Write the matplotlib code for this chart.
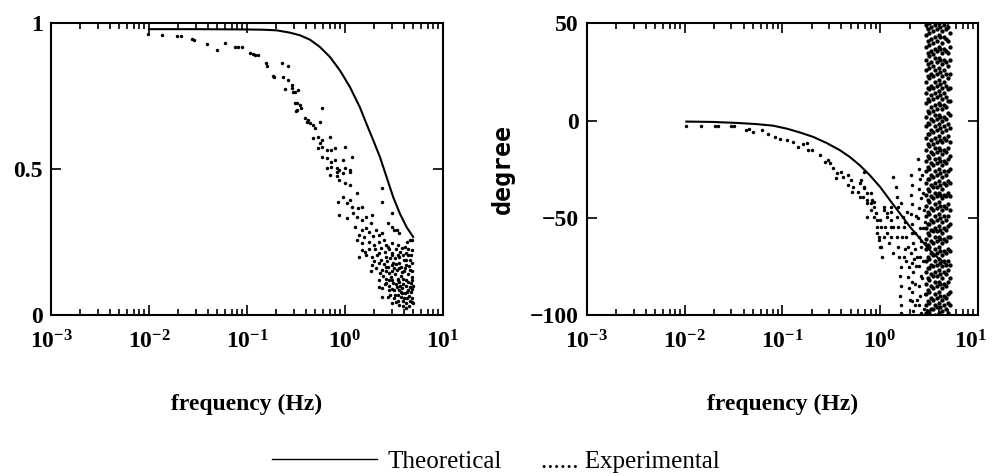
import numpy as np
import matplotlib.pyplot as plt
from matplotlib.lines import Line2D
from matplotlib.transforms import ScaledTranslation

plt.rcParams['font.family'] = 'Liberation Serif'
plt.rcParams['mathtext.fontset'] = 'custom'
plt.rcParams['mathtext.rm'] = 'Liberation Serif:bold'
plt.rcParams['mathtext.it'] = 'Liberation Serif:bold'
plt.rcParams['mathtext.bf'] = 'Liberation Serif:bold'

# theoretical curves
theo_mag_freq = [0.01, 0.03, 0.1, 0.15, 0.201, 0.275, 0.348, 0.44, 0.556, 0.703, 0.889, 1.125,
                 1.42, 1.66, 1.95, 2.28, 2.66, 3.11, 3.64, 4.26, 4.98]
theo_mag = [0.98, 0.98, 0.979, 0.978, 0.976, 0.968, 0.959, 0.944, 0.919, 0.885, 0.839, 0.782,
            0.713, 0.656, 0.599, 0.542, 0.474, 0.405, 0.348, 0.302, 0.268]

theo_ph_freq = [0.0104, 0.0195, 0.034, 0.054, 0.080, 0.110, 0.151, 0.207, 0.283, 0.387, 0.49,
                0.62, 0.785, 1.0, 1.26, 1.60, 2.02, 2.56, 3.07, 3.8, 4.9]
theo_ph = [-0.5, -0.7, -1.2, -1.8, -2.6, -4.1, -6.1, -8.4, -11.5, -15.2, -18.7,
           -23.0, -28.1, -34.1, -40.9, -47.8, -54.6, -60.6, -65.5, -70.0, -74.5]

# experimental magnitude (freq Hz, |H|)
exp_mag_points = [
    (0.0098, 0.962), (0.0135, 0.960), (0.0195, 0.958), (0.021, 0.957), (0.0275, 0.945),
    (0.029, 0.944), (0.039, 0.930), (0.049, 0.907), (0.060, 0.932), (0.076, 0.918),
    (0.082, 0.920), (0.089, 0.919), (0.107, 0.900), (0.115, 0.896), (0.122, 0.893),
    (0.129, 0.890), (0.158, 0.863), (0.162, 0.853), (0.185, 0.820), (0.19, 0.816),
    (0.23, 0.863), (0.26, 0.854), (0.235, 0.816), (0.26, 0.805), (0.245, 0.774),
    (0.29, 0.788), (0.295, 0.765), (0.31, 0.726), (0.32, 0.70),
    (0.288, 0.777), (0.309, 0.764), (0.331, 0.771), (0.323, 0.726), (0.35, 0.719),
    (0.323, 0.702), (0.36, 0.709), (0.58, 0.709),
    (0.39, 0.675), (0.42, 0.668), (0.44, 0.658), (0.47, 0.651), (0.49, 0.640),
    (0.41, 0.661), (0.556, 0.661),
    (0.47, 0.606), (0.53, 0.610), (0.58, 0.599), (0.556, 0.589), (0.70, 0.610),
    (0.53, 0.572), (0.59, 0.575), (0.65, 0.565), (0.73, 0.565), (0.79, 0.572), (1.0, 0.575),
    (0.58, 0.541), (0.65, 0.538), (0.73, 0.524), (0.79, 0.531), (0.95, 0.531), (1.17, 0.541),
    (0.65, 0.503), (0.73, 0.507), (0.83, 0.503), (0.88, 0.497), (1.0, 0.503), (1.12, 0.497),
    (0.70, 0.479), (0.83, 0.476),
    (0.83, 0.490), (0.95, 0.486), (1.12, 0.490), (0.88, 0.462), (1.0, 0.452), (1.12, 0.445),
    (1.32, 0.418), (2.39, 0.435), (2.39, 0.387),
    (0.85, 0.387), (0.95, 0.404), (1.05, 0.384), (1.12, 0.394), (1.17, 0.370), (1.35, 0.366),
    (1.5, 0.370),
    (0.88, 0.342), (1.05, 0.332), (1.2, 0.349), (1.32, 0.336), (1.48, 0.325), (1.66, 0.336),
    (1.9, 0.342), (1.86, 0.315),
    (2.75, 0.315), (3.2, 0.291), (3.6, 0.281),
    (1.26, 0.301), (1.48, 0.291), (1.66, 0.298), (1.78, 0.284), (2.1, 0.291), (2.25, 0.274),
    (2.4, 0.281), (1.41, 0.274), (1.58, 0.267),
    (1.32, 0.257), (1.48, 0.247), (1.5, 0.223), (1.78, 0.250), (2.0, 0.240), (2.25, 0.250),
    (2.5, 0.257), (2.75, 0.233), (3.0, 0.247),
    (1.41, 0.199), (1.66, 0.205), (1.9, 0.199), (2.25, 0.212), (2.65, 0.199), (3.0, 0.212),
    (3.6, 0.199), (4.2, 0.212), (4.8, 0.223), (4.3, 0.250), (4.8, 0.257),
    (1.9, 0.171), (2.25, 0.178), (2.65, 0.164), (3.0, 0.171), (3.6, 0.178), (4.2, 0.171),
    (4.6, 0.188), (2.4, 0.154), (2.85, 0.144), (3.4, 0.154), (3.85, 0.147), (4.6, 0.154),
    (2.25, 0.120), (2.65, 0.110), (3.0, 0.120), (3.6, 0.113), (4.2, 0.120), (4.8, 0.130),
    (2.4, 0.092), (2.85, 0.086), (3.4, 0.096), (3.85, 0.092), (4.6, 0.096), (2.75, 0.062),
    (3.2, 0.058), (3.75, 0.062), (4.3, 0.058), (3.0, 0.041), (3.6, 0.034), (4.2, 0.041),
    (4.8, 0.045), (2.25, 0.096), (2.4, 0.062),
    (3.0, 0.349), (3.0, 0.301), (3.4, 0.291), (4.6, 0.257),
    (2.05, 0.225), (2.15, 0.205), (2.35, 0.230), (2.55, 0.215), (2.7, 0.185), (2.9, 0.195),
    (3.1, 0.180), (3.3, 0.225), (3.5, 0.205), (3.8, 0.230), (4.0, 0.190), (4.4, 0.205),
    (4.9, 0.180), (2.1, 0.160), (2.45, 0.135), (2.6, 0.150), (2.95, 0.130), (3.25, 0.140),
    (3.5, 0.125), (3.75, 0.135), (4.0, 0.150), (4.4, 0.140), (4.9, 0.120), (2.55, 0.105),
    (2.8, 0.100), (3.15, 0.085), (3.35, 0.105), (3.7, 0.080), (3.95, 0.105), (4.1, 0.075),
    (4.45, 0.085), (4.9, 0.090), (2.9, 0.070), (3.45, 0.070), (3.9, 0.050), (4.55, 0.065),
    (4.9, 0.060), (3.3, 0.045), (3.95, 0.030), (4.5, 0.030), (4.7, 0.110), (4.1, 0.160),
    (3.2, 0.160), (2.3, 0.145), (1.75, 0.225), (1.95, 0.270), (1.6, 0.215), (2.0, 0.185),
    (1.85, 0.150),
    (2.6, 0.240), (2.85, 0.225), (3.05, 0.205), (3.25, 0.195), (3.45, 0.240), (3.65, 0.215),
    (3.9, 0.205), (4.15, 0.235), (4.45, 0.225), (4.75, 0.205), (2.35, 0.190), (2.5, 0.175),
    (2.75, 0.165), (3.05, 0.150), (3.3, 0.175), (3.55, 0.160), (3.75, 0.165), (4.25, 0.190),
    (4.55, 0.170), (4.8, 0.150), (2.6, 0.125), (2.85, 0.120), (3.1, 0.110), (3.45, 0.120),
    (3.65, 0.100), (3.9, 0.125), (4.2, 0.100), (4.4, 0.115), (4.7, 0.080), (4.95, 0.100),
    (3.05, 0.090), (3.25, 0.070), (3.55, 0.085), (3.8, 0.075), (4.05, 0.060), (4.3, 0.080),
    (4.65, 0.050), (4.95, 0.040), (3.5, 0.050), (4.2, 0.025),
]

# experimental phase (freq Hz, degree), outside the wrap band
exp_ph_points = [
    (0.0104, -2.7), (0.0147, -2.7), (0.0206, -2.7), (0.022, -2.9), (0.030, -2.7), (0.032, -2.9),
    (0.042, -5.0), (0.045, -4.5), (0.050, -6.0), (0.062, -5.0), (0.072, -7.0), (0.085, -8.4),
    (0.095, -9.6), (0.112, -10.1), (0.127, -11.1), (0.146, -13.7), (0.164, -12.2), (0.180, -11.6),
    (0.185, -15.2), (0.203, -15.2), (0.245, -17.8), (0.276, -21.4), (0.296, -20.4), (0.31, -21.9),
    (0.333, -24.5), (0.366, -27.1), (0.394, -26.5), (0.42, -29.1), (0.35, -29.6), (0.465, -28.1),
    (0.50, -30.7), (0.465, -33.2), (0.53, -34.2), (0.59, -36.8), (0.52, -36.8), (0.63, -32.2),
    (0.68, -34.8), (0.74, -37.3), (0.63, -39.4), (0.74, -40.9), (0.80, -42.5), (0.86, -42.0),
    (0.68, -26.5), (0.80, -46.1), (0.86, -49.7), (0.94, -51.2), (1.01, -54.8), (0.94, -57.9),
    (0.97, -61.5), (1.01, -65.1), (1.09, -44.5), (1.19, -47.6), (1.28, -51.2), (1.37, -54.8),
    (1.19, -57.9), (1.28, -44.5),
    (0.64, -30.6), (0.69, -34.2), (0.67, -39.4), (0.74, -42.5), (0.80, -37.3), (0.86, -44.5),
    (0.90, -47.6), (0.94, -54.8), (0.97, -59.9), (1.0, -65.1), (0.74, -49.7), (0.83, -40.9),
    (1.0, -51.2), (1.09, -46.1), (1.19, -49.7), (1.28, -54.8), (1.28, -59.9), (1.13, -54.8),
    (1.23, -63.0), (1.05, -70.0), (1.10, -60.0), (1.35, -68.0), (1.30, -47.0),
    (1.37, -29.1), (1.44, -34.2), (1.48, -39.4), (1.51, -44.5), (1.48, -49.7), (1.51, -54.8),
    (1.48, -59.9), (1.51, -65.1), (1.55, -70.2), (1.62, -75.3), (1.58, -80.0), (1.62, -85.0),
    (1.60, -90.0), (1.65, -95.0), (1.62, -99.0),
    (1.62, -42.5), (1.70, -49.7), (1.74, -54.8), (1.83, -59.9), (1.92, -65.1), (1.74, -70.2),
    (1.96, -75.3), (1.92, -80.5), (1.80, -52.0), (1.88, -47.0), (1.66, -60.0), (1.78, -66.0),
    (1.85, -72.0), (1.96, -86.0), (2.0, -92.0),
    (2.06, -28), (2.10, -33), (2.08, -38), (2.12, -43), (2.06, -48), (2.14, -53), (2.10, -58),
    (2.16, -63), (2.08, -68), (2.12, -73), (2.18, -78), (2.10, -83), (2.14, -88), (2.12, -93),
    (2.16, -98),
    (2.45, -20), (2.50, -25), (2.55, -30), (2.48, -35), (2.60, -40), (2.52, -45), (2.45, -50),
    (2.58, -55), (2.50, -60), (2.62, -65), (2.55, -70), (2.48, -75), (2.60, -80), (2.52, -85),
    (2.58, -90), (2.50, -95), (2.62, -99),
    (2.25, -58), (2.3, -66), (2.35, -75), (2.28, -84), (2.4, -92), (2.7, -28), (2.75, -37),
    (2.8, -46), (2.72, -55), (2.85, -63), (2.78, -72), (2.7, -81), (2.85, -89), (2.8, -97),
    (2.35, -49), (2.65, -62), (2.4, -70), (2.9, -52), (2.2, -71), (2.3, -95),
]

# dense wrap band between ~3 and ~5 Hz: one list of degrees per frequency column
band_freq = [2.92, 3.06, 3.2, 3.35, 3.5, 3.65, 3.82, 3.98, 4.15, 4.35, 4.55, 4.75, 4.98, 5.2]
band_deg = [
    [49, 44, 38, 31, 26, 20, 14, 9, 2, -3, -9, -15, -21, -26, -32, -38, -44, -49, -55, -61, -66, -72, -78, -84, -89, -95, -99],
    [47, 41, 35, 29, 23, 17, 11, 5, -1, -7, -12, -18, -24, -30, -35, -41, -47, -53, -58, -64, -70, -76, -81, -87, -93, -98],
    [50, 45, 39, 33, 27, 22, 16, 10, 4, -2, -7, -13, -19, -25, -30, -36, -42, -48, -53, -59, -65, -71, -76, -82, -88, -94, -99],
    [48, 42, 36, 30, 24, 18, 13, 7, 1, -5, -10, -16, -22, -28, -33, -39, -45, -51, -56, -62, -68, -74, -79, -85, -91, -97],
    [46, 40, 34, 28, 23, 17, 11, 5, 0, -6, -12, -17, -23, -29, -34, -40, -46, -52, -57, -63, -69, -75, -80, -86, -92, -97],
    [49, 43, 37, 32, 26, 20, 14, 8, 3, -3, -9, -14, -20, -26, -32, -37, -43, -49, -55, -60, -66, -72, -78, -83, -89, -95, -100],
    [47, 41, 36, 30, 24, 18, 12, 6, 1, -5, -11, -16, -22, -28, -34, -39, -45, -51, -57, -62, -68, -74, -80, -85, -91, -96],
    [50, 44, 38, 32, 27, 21, 15, 9, 3, -2, -8, -14, -19, -25, -31, -37, -42, -48, -54, -60, -65, -71, -77, -83, -88, -94, -99],
    [48, 43, 37, 31, 25, 19, 13, 8, 2, -4, -10, -15, -21, -27, -33, -38, -44, -50, -56, -61, -67, -73, -79, -84, -90, -96],
    [46, 40, 35, 29, 23, 17, 11, 6, 0, -6, -11, -17, -23, -29, -35, -40, -46, -52, -58, -63, -69, -75, -81, -86, -92, -98],
    [49, 43, 37, 31, 26, 20, 14, 8, 2, -3, -9, -15, -21, -26, -32, -38, -44, -49, -55, -61, -67, -72, -78, -84, -90, -95],
    [47, 42, 36, 30, 24, 18, 12, 7, 1, -5, -10, -16, -22, -28, -33, -39, -45, -51, -56, -62, -68, -74, -79, -85, -91, -97],
    [48, 41, 35, 28, 22, 16, 10, 4, -2, -8, -14, -20, -26, -31, -37, -43, -49, -54, -60, -66, -72, -77, -83, -89, -94, -99],
    [45, 38, 31, 24, 17, 10, 3, -4, -11, -18, -25, -32, -39, -46, -53, -60, -67, -74, -81, -88, -95],
]

xtick_vals = [1e-3, 1e-2, 1e-1, 1e0, 1e1]
xtick_labels = [r'$\mathdefault{10^{-3}}$', r'$\mathdefault{10^{-2}}$', r'$\mathdefault{10^{-1}}$',
                r'$\mathdefault{10^{0}}$', r'$\mathdefault{10^{1}}$']

mag_f, mag_v = zip(*exp_mag_points)
ph_f, ph_v = zip(*exp_ph_points)
bf, bd = [], []
for f, col in zip(band_freq, band_deg):
    bf += [f] * len(col)
    bd += col

fig = plt.figure(figsize=(9.92, 4.76), dpi=100)
ax1 = fig.add_axes([0.0514, 0.338, 0.395, 0.613])
ax2 = fig.add_axes([0.5917, 0.338, 0.394, 0.613])

ax1.plot(theo_mag_freq, theo_mag, color='k', lw=1.5)
ax1.plot(mag_f, mag_v, ls='none', marker='o', ms=2.5, mew=0, color='k')
ax2.plot(theo_ph_freq, theo_ph, color='k', lw=1.5)
ax2.plot(ph_f, ph_v, ls='none', marker='o', ms=2.5, mew=0, color='k')
ax2.plot(bf, bd, ls='none', marker='o', ms=3.1, mew=0, color='k')

for ax in (ax1, ax2):
    ax.set_xscale('log')
    ax.set_xlim(1e-3, 1e1)
    ax.set_xticks(xtick_vals)
    ax.set_xticklabels(xtick_labels)
    ax.tick_params(which='both', direction='in', top=True, right=True, width=1.2,
                   labelsize=17)
    ax.tick_params(axis='x', pad=11)
    ax.tick_params(which='major', length=7)
    ax.tick_params(which='minor', length=4.5)
    for lab in ax.get_xticklabels() + ax.get_yticklabels():
        lab.set_fontweight('bold')
    for sp in ax.spines.values():
        sp.set_linewidth(1.5)
    ax.set_xlabel('frequency (Hz)', fontsize=17, fontweight='bold')
    ax.xaxis.set_label_coords(0.5, -0.27)

# keep the last right-hand tick label inside the figure
last = ax2.get_xticklabels()[-1]
last.set_transform(last.get_transform() + ScaledTranslation(-5 / 72, 0, fig.dpi_scale_trans))

ax1.set_ylim(0, 1)
ax1.set_yticks([0, 0.5, 1])
ax1.set_yticklabels(['0', '0.5', '1'], fontweight='bold')
ax1.tick_params(axis='y', pad=6)

ax2.set_ylim(-100, 50)
ax2.set_yticks([-100, -50, 0, 50])
ax2.set_yticklabels(['\u2212100', '\u221250', '0', '50'], fontweight='bold')
ax2.tick_params(axis='y', pad=6)
ax2.set_ylabel('degree', fontsize=18, fontweight='bold', family='DejaVu Sans Mono')
ax2.yaxis.set_label_coords(-0.185, 0.5)

fig.legend(handles=[Line2D([], [], color='k', lw=1.0)], labels=['Theoretical'],
           loc='center left', bbox_to_anchor=(0.262, 0.03), frameon=False,
           borderpad=0, handlelength=4.2, handletextpad=0.4, fontsize=18)
fig.text(0.545, 0.03, '...... Experimental', fontsize=18, va='center', ha='left')

fig.savefig('out.png', dpi=100)
